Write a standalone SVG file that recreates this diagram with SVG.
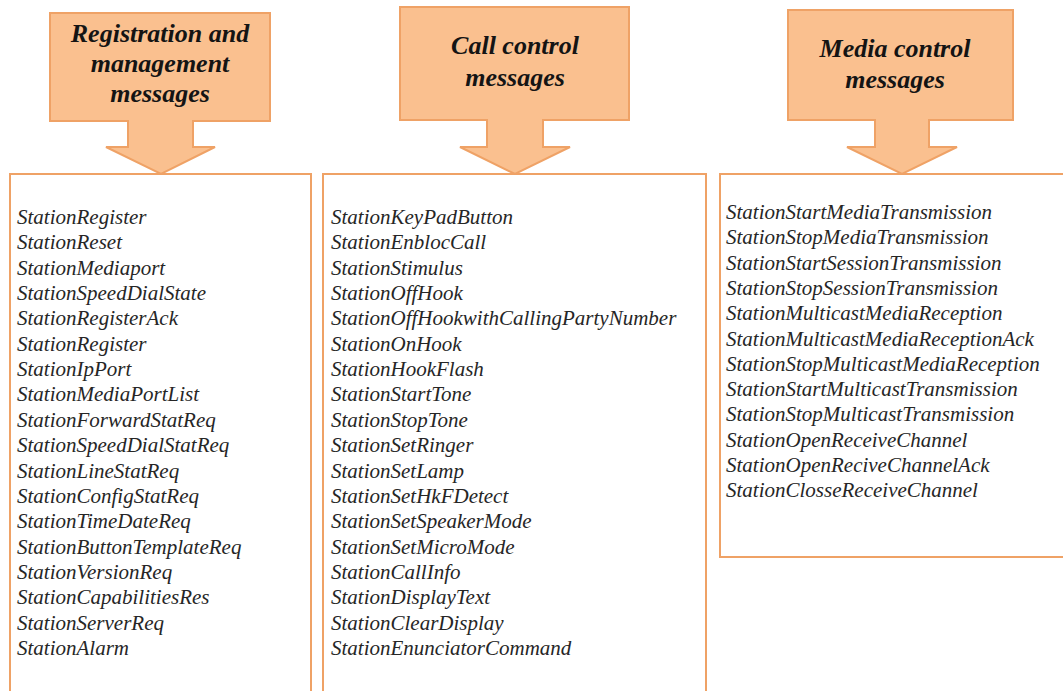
<svg xmlns="http://www.w3.org/2000/svg" width="1063" height="691" viewBox="0 0 1063 691">
  <style>
    .callout { fill: #FAC08F; stroke: #EFA266; stroke-width: 2; stroke-linejoin: miter; }
    .list { fill: #FFFFFF; stroke: #EFA266; stroke-width: 2; }
    .head { font-family: "Liberation Serif", "Times New Roman", serif; font-size: 26px; font-weight: bold; font-style: italic; fill: #141414; text-anchor: middle; }
    .item { font-family: "Liberation Serif", "Times New Roman", serif; font-size: 21px; font-style: italic; fill: #262626; }
  </style>

  <rect x="0" y="0" width="1063" height="691" fill="#FFFFFF"/>

  <!-- list panels -->
  <g id="panels">
    <rect id="reg-list-box" class="list" x="10" y="174" width="301" height="530"/>
    <rect id="call-list-box" class="list" x="323" y="174" width="383" height="530"/>
    <rect id="media-list-box" class="list" x="720" y="174" width="360" height="383"/>
  </g>

  <!-- down-arrow headers pointing into each panel -->
  <g id="connectors">
    <path id="reg-arrow" class="callout" d="M50,13 H270 V121 H193 V147 H215 L161,174 L106,147 H128 V121 H50 Z"/>
    <path id="call-arrow" class="callout" d="M400,7 H629 V120 H543 V147 H570 L515,174 L460,147 H487 V120 H400 Z"/>
    <path id="media-arrow" class="callout" d="M788,10 H1013 V120 H929 V147 H957 L902,174 L847,147 H875 V120 H788 Z"/>
  </g>

  <g id="reg-header">
    <text class="head" x="160" y="42">Registration and</text>
    <text class="head" x="160" y="72">management</text>
    <text class="head" x="160" y="102">messages</text>
  </g>

  <g id="call-header">
    <text class="head" x="515" y="54">Call control</text>
    <text class="head" x="515" y="86">messages</text>
  </g>

  <g id="media-header">
    <text class="head" x="895" y="57">Media control</text>
    <text class="head" x="895" y="88">messages</text>
  </g>

  <!-- registration and management messages -->
  <g id="reg-list">
    <text class="item" x="17" y="224">StationRegister</text>
    <text class="item" x="17" y="249.35">StationReset</text>
    <text class="item" x="17" y="274.7">StationMediaport</text>
    <text class="item" x="17" y="300.05">StationSpeedDialState</text>
    <text class="item" x="17" y="325.4">StationRegisterAck</text>
    <text class="item" x="17" y="350.75">StationRegister</text>
    <text class="item" x="17" y="376.1">StationIpPort</text>
    <text class="item" x="17" y="401.45">StationMediaPortList</text>
    <text class="item" x="17" y="426.8">StationForwardStatReq</text>
    <text class="item" x="17" y="452.15">StationSpeedDialStatReq</text>
    <text class="item" x="17" y="477.5">StationLineStatReq</text>
    <text class="item" x="17" y="502.85">StationConfigStatReq</text>
    <text class="item" x="17" y="528.2">StationTimeDateReq</text>
    <text class="item" x="17" y="553.55">StationButtonTemplateReq</text>
    <text class="item" x="17" y="578.9">StationVersionReq</text>
    <text class="item" x="17" y="604.25">StationCapabilitiesRes</text>
    <text class="item" x="17" y="629.6">StationServerReq</text>
    <text class="item" x="17" y="654.95">StationAlarm</text>
  </g>

  <!-- call control messages -->
  <g id="call-list">
    <text class="item" x="331" y="224">StationKeyPadButton</text>
    <text class="item" x="331" y="249.35">StationEnblocCall</text>
    <text class="item" x="331" y="274.7">StationStimulus</text>
    <text class="item" x="331" y="300.05">StationOffHook</text>
    <text class="item" x="331" y="325.4">StationOffHookwithCallingPartyNumber</text>
    <text class="item" x="331" y="350.75">StationOnHook</text>
    <text class="item" x="331" y="376.1">StationHookFlash</text>
    <text class="item" x="331" y="401.45">StationStartTone</text>
    <text class="item" x="331" y="426.8">StationStopTone</text>
    <text class="item" x="331" y="452.15">StationSetRinger</text>
    <text class="item" x="331" y="477.5">StationSetLamp</text>
    <text class="item" x="331" y="502.85">StationSetHkFDetect</text>
    <text class="item" x="331" y="528.2">StationSetSpeakerMode</text>
    <text class="item" x="331" y="553.55">StationSetMicroMode</text>
    <text class="item" x="331" y="578.9">StationCallInfo</text>
    <text class="item" x="331" y="604.25">StationDisplayText</text>
    <text class="item" x="331" y="629.6">StationClearDisplay</text>
    <text class="item" x="331" y="654.95">StationEnunciatorCommand</text>
  </g>

  <!-- media control messages -->
  <g id="media-list">
    <text class="item" x="726" y="219">StationStartMediaTransmission</text>
    <text class="item" x="726" y="244.3">StationStopMediaTransmission</text>
    <text class="item" x="726" y="269.6">StationStartSessionTransmission</text>
    <text class="item" x="726" y="294.9">StationStopSessionTransmission</text>
    <text class="item" x="726" y="320.2">StationMulticastMediaReception</text>
    <text class="item" x="726" y="345.5">StationMulticastMediaReceptionAck</text>
    <text class="item" x="726" y="370.8">StationStopMulticastMediaReception</text>
    <text class="item" x="726" y="396.1">StationStartMulticastTransmission</text>
    <text class="item" x="726" y="421.4">StationStopMulticastTransmission</text>
    <text class="item" x="726" y="446.7">StationOpenReceiveChannel</text>
    <text class="item" x="726" y="472">StationOpenReciveChannelAck</text>
    <text class="item" x="726" y="497.3">StationClosseReceiveChannel</text>
  </g>
</svg>
